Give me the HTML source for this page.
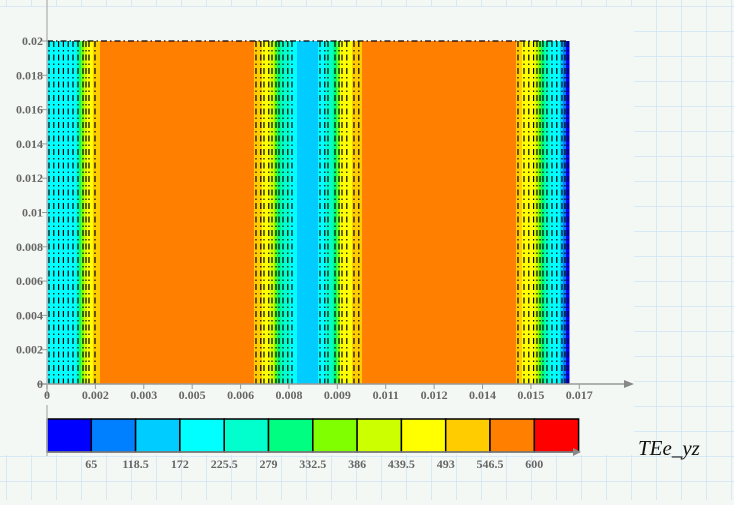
<!DOCTYPE html>
<html><head><meta charset="utf-8"><style>
body{margin:0;width:734px;height:500px;overflow:hidden;background:#f4f8f5;font-family:"Liberation Serif",serif}
svg text{font-family:"Liberation Serif",serif;font-weight:bold;fill:#666;font-size:12px}
</style></head><body>
<svg width="734" height="500">
<defs><pattern id="grid" width="25" height="25" patternUnits="userSpaceOnUse" x="6" y="6">
<path d="M0 0H25M0 0V25" stroke="#cfe2f5" stroke-width="1.5" fill="none"/></pattern></defs>
<rect width="734" height="500" fill="#f4f8f5"/>
<rect width="734" height="500" fill="url(#grid)"/>
<rect x="0" y="7" width="634" height="448" fill="#f4f8f5"/>
<g id="plot"></g>
<g id="axes"></g>
<g id="cbar"></g>
<text x="638" y="455" style="font-style:italic;font-weight:normal;font-size:21px;fill:#111">TEe_yz</text>
</svg>
<script>
const colors=["#0000ff","#0080ff","#00ccff","#00ffff","#00ffcc","#00ff80","#80ff00","#ccff00","#ffff00","#ffcc00","#ff8000","#ff0000"];
const levelLabels=["65","118.5","172","225.5","279","332.5","386","439.5","493","546.5","600"];
const xTickLabels=["0","0.002","0.003","0.005","0.006","0.008","0.009","0.011","0.012","0.014","0.015","0.017"];
const yTickLabels=["0","0.002","0.004","0.006","0.008","0.01","0.012","0.014","0.016","0.018","0.02"];
// band start positions (x data units) and color level index
const bandStart=[0,0.000929,0.001025,0.001089,0.001185,0.001281,0.001473,0.001698,0.00663,0.006886,0.007143,0.007271,0.007367,0.007495,0.007783,0.008008,0.00868,0.008936,0.00916,0.009289,0.009385,0.009769,0.01009,0.015022,0.015214,0.01563,0.015727,0.015823,0.01595,0.016111,0.016431,0.016527,0.016624];
const bandLevel=[3,4,5,6,7,8,9,10,9,8,7,6,5,4,3,2,3,4,5,6,8,9,10,9,8,7,6,5,4,3,2,1,0];
const xMax=0.01672, yMax=0.02, xStep=0.00155;
const X0=47,X1=569,Y0=384,Y1=41;
const sx=v=>X0+(X1-X0)*v/xMax, sy=v=>Y0-(Y0-Y1)*v/yMax;
const NS="http://www.w3.org/2000/svg";
function mk(t,a,p){const e=document.createElementNS(NS,t);for(const k in a)e.setAttribute(k,a[k]);p.appendChild(e);return e;}
const plot=document.getElementById('plot'),axes=document.getElementById('axes'),cb=document.getElementById('cbar');
for(let i=0;i<bandStart.length;i++){
  const a=bandStart[i],b=i+1<bandStart.length?bandStart[i+1]:xMax;
  if(b<=a)continue;
  const r=mk('rect',{x:sx(a),y:sy(yMax),width:sx(b)-sx(a)+0.5,height:sy(0)-sy(yMax),fill:colors[bandLevel[i]]},plot);
  
  
}
for(let i=0;i<bandStart.length;i++){
  const a=bandStart[i],b=i+1<bandStart.length?bandStart[i+1]:xMax;
  if(bandLevel[i]===10 || (bandLevel[i]===2 && b-a>0.0005))continue;
  for(let px=sx(a)+2;px<sx(b)-0.5;px+=4.8){
    const l=mk('line',{x1:px,x2:px,y1:sy(yMax),y2:sy(0),stroke:"#000","stroke-width":1.2,"stroke-dasharray":"6,3,1.5,3"},plot);
    
    
  }
}
mk('line',{x1:X0,x2:X1,y1:Y1,y2:Y1,stroke:"#000","stroke-width":1.2,"stroke-dasharray":"6,3,1.5,3"},plot);
// axes
const xa=mk('line',{x1:X0-10,x2:630,y1:Y0,y2:Y0,stroke:"#999","stroke-width":1.5},axes);

mk('path',{d:"M634 384 L624 380 L624 388Z",fill:"#888"},axes);
const ya=mk('line',{x1:X0,x2:X0,y1:0,y2:396,stroke:"#bbb","stroke-width":1.5},axes);

xTickLabels.forEach((t,i)=>{const px=sx(i*xStep);
  mk('line',{x1:px,x2:px,y1:Y0,y2:Y0+5,stroke:"#999"},axes);
  const e=mk('text',{x:px,y:399,"text-anchor":"middle"},axes);e.textContent=t;
  });
yTickLabels.forEach((t,i)=>{const py=sy(i*0.002);
  mk('line',{x1:X0-5,x2:X0,y1:py,y2:py,stroke:"#999"},axes);
  const e=mk('text',{x:X0-4,y:py+4,"text-anchor":"end"},axes);e.textContent=t;
  });
// colorbar
const CB0=47,CBW=44.3,CBY=419,CBH=33;
colors.forEach((c,i)=>{const r=mk('rect',{x:CB0+i*CBW,y:CBY,width:CBW,height:CBH,fill:c,stroke:"#000","stroke-width":1.5},cb);
  });
mk('line',{x1:CB0,x2:CB0,y1:405,y2:456,stroke:"#bbb","stroke-width":1.5},cb);
mk('line',{x1:CB0,x2:578,y1:452,y2:452,stroke:"#888","stroke-width":1.5},cb);
mk('path',{d:"M581 452 L573 448 L573 456Z",fill:"#888"},cb);
levelLabels.forEach((t,i)=>{const px=CB0+(i+1)*CBW;
  const e=mk('text',{x:px,y:468,"text-anchor":"middle"},cb);e.textContent=t;
  });
</script>
</body></html>
